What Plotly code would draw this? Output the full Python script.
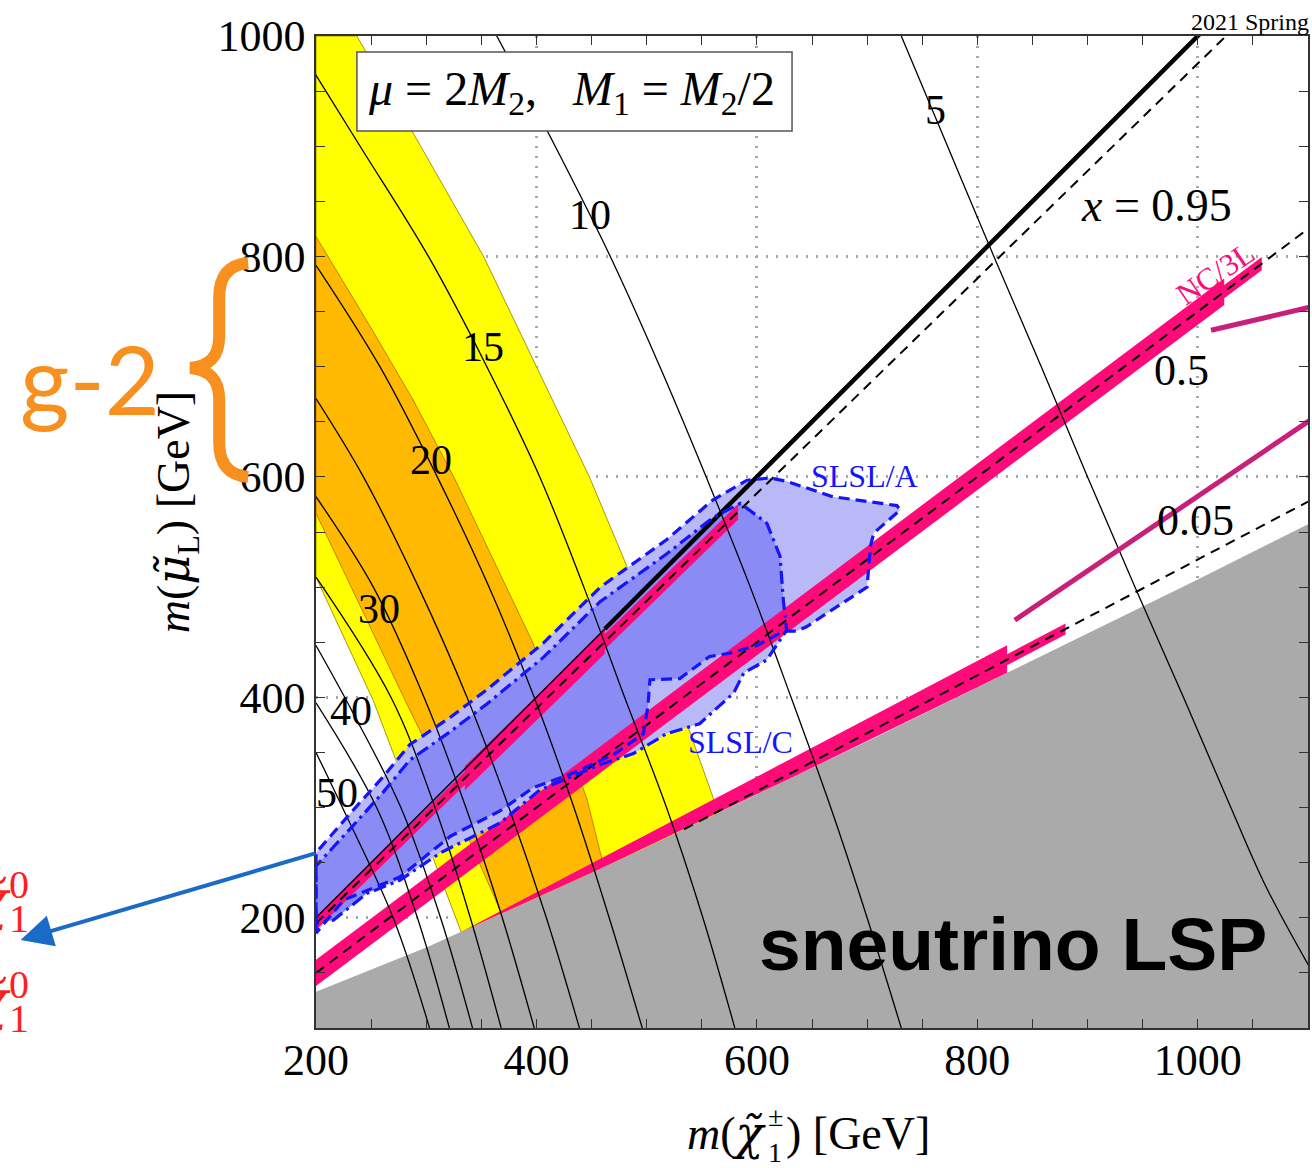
import numpy as np
import plotly.graph_objects as go

# ---------------- data (masses in GeV) ----------------
# boundary of the sneutrino-LSP region
lsp_x = [200, 300, 400, 500, 600, 700, 800, 900, 1000, 1100]
lsp_y = [133, 173, 218, 264, 312, 360, 409, 458, 507, 557]

# g-2 preferred bands: 2 sigma (yellow) and 1 sigma (orange)
g2_2s_x = [200, 237, 295, 352, 400, 448, 490, 528, 561, 600, 640, 360, 331, 289, 252, 200]
g2_2s_y = [1000, 1000, 900, 800, 700, 600, 500, 400, 307, 200, 100, 100, 189, 300, 397, 509]
g2_1s_x = [200, 250, 288, 325, 397, 446, 458, 480, 500, 404, 367, 303, 281, 200]
g2_1s_y = [818, 735, 670, 600, 449, 307, 259, 180, 100, 100, 207, 352, 397, 567]

# contours of the SUSY contribution to a_mu (x 10^10)
contour_levels = [5, 10, 15, 20, 25, 30, 35, 40, 45, 50]
contour_x = [
    [1101, 1062, 1030, 987, 943, 900, 858, 815, 773, 731],
    [731, 700, 667, 631, 594, 554, 512, 467, 417, 364],
    [580, 551, 518, 480, 443, 403, 355, 302, 240, 199],
    [496, 466, 434, 398, 357, 310, 258, 200],
    [439, 409, 375, 337, 293, 243, 200],
    [398, 369, 336, 298, 252, 200],
    [368, 340, 308, 268, 200],
    [342, 313, 277, 233, 200],
    [321, 292, 255, 200],
    [303, 270, 224, 200],
]
contour_y = [
    [156, 228, 300, 400, 500, 600, 700, 800, 900, 1000],
    [100, 200, 300, 400, 500, 600, 700, 800, 900, 1000],
    [100, 200, 300, 400, 500, 600, 700, 800, 900, 966],
    [100, 200, 300, 400, 500, 600, 700, 792],
    [100, 200, 300, 400, 500, 600, 671],
    [100, 200, 300, 400, 500, 582],
    [100, 200, 300, 400, 509],
    [100, 200, 300, 387, 447],
    [100, 200, 300, 395],
    [100, 200, 300, 350],
]

# x = (m_smuon - m_N1) / (m_C1 - m_N1), with m_N1 = m_C1 / 2
x_values = [1.0, 0.95, 0.5, 0.05]

# NC/3L exclusion strips along the x lines: segment edges and half-widths
nc_095_edges = [200, 335, 462, 583]
nc_095_halfw = [6, 11, 7]
nc_05_edges = [200, 1024, 1058]
nc_05_halfw = [12, 6]
nc_005_edges = [290, 827, 880]
nc_005_halfw = [13, 5]

# further limit lines
limit_x = [[1012, 1102], [834, 1102]]
limit_y = [[733, 754], [470, 651.5]]

# slepton-pair searches
slsl_a_x = [200, 200, 234, 261, 285, 322, 355, 406, 458, 518, 560, 591, 612, 627, 669, 727, 730, 706,
            703, 700, 663, 645, 636, 624, 600, 575, 557, 530, 503, 501, 497, 470, 430, 397, 367, 322, 276, 225]
slsl_a_y = [186, 259, 298, 328, 357, 382, 407, 449, 500, 543, 579, 597, 599, 596, 582, 574, 570, 549,
            537, 500, 476, 464, 460, 460, 447, 440, 437, 417, 416, 391, 367, 348, 330, 318, 297, 274, 237, 216]
slsl_c_x = [200, 200, 234, 261, 285, 322, 355, 406, 458, 518, 560, 585, 609, 621, 624, 627, 621, 609,
            588, 579, 548, 518, 488, 458, 403, 367, 313, 276, 246, 216]
slsl_c_y = [195, 247, 284, 314, 343, 369, 394, 436, 487, 530, 563, 576, 558, 528, 488, 461, 452, 434,
            422, 404, 376, 367, 349, 339, 316, 286, 259, 234, 222, 198]
slsl_ac_x = [200, 200, 234, 261, 285, 322, 355, 406, 458, 518, 560, 585, 609, 621, 624, 626, 600, 575,
             557, 530, 503, 501, 497, 470, 430, 397, 367, 322, 276, 246, 216]
slsl_ac_y = [195, 247, 284, 314, 343, 369, 394, 436, 487, 530, 563, 576, 558, 528, 488, 461, 447, 440,
             437, 417, 416, 391, 367, 348, 330, 318, 297, 274, 237, 222, 198]

# ---------------- geometry helpers ----------------
W, H = 1312, 1168
ML, MR, MT, MB = 316, 2, 36, 140
PW, PH = W - ML - MR, H - MT - MB
XR, YR = [200, 1100], [100, 1000]

SERIF = "Liberation Serif, Times New Roman, serif"
SANS = "Liberation Sans, Arial, sans-serif"
TILDE_FONT = "font-family:DejaVu Serif"

PINK = "#FF0A78"
YELLOW = "#FFFF00"
ORANGE = "#FFB900"
GRAY = "#AAAAAA"
LIGHT_BLUE = "#B9B9F8"
DARK_BLUE = "#8B8BF5"
BLUE = "#1414FF"
G2_ORANGE = "#F7901E"
RED = "#FF1E1E"


def paper(xp, yp):
    return (xp - ML) / PW, (MT + PH - yp) / PH


def smuon_mass(mc, xv):
    return np.asarray(mc, float) * (1.0 + xv) / 2.0


def gray_edge(mc):
    return np.interp(mc, lsp_x, lsp_y)


def closed(xs, ys):
    return list(xs) + [xs[0]], list(ys) + [ys[0]]


def fill_trace(xs, ys, color, edge=None, width=0):
    cx, cy = closed(xs, ys)
    return go.Scatter(x=cx, y=cy, mode="lines", fill="toself", fillcolor=color,
                      line=dict(color=edge or color, width=width),
                      hoverinfo="skip", showlegend=False)


def strip_polygon(edges, halfw, xv, clip_gray=False):
    top_x, top_y, bot_x, bot_y = [], [], [], []
    for i, hw in enumerate(halfw):
        xs = np.linspace(edges[i], edges[i + 1], 40)
        c = smuon_mass(xs, xv)
        t, b = c + hw, c - hw
        if clip_gray:
            g = gray_edge(xs)
            t, b = np.maximum(t, g), np.maximum(b, g)
        top_x += list(xs); top_y += list(t)
        bot_x += list(xs); bot_y += list(b)
    return top_x + bot_x[::-1], top_y + bot_y[::-1]


def tilded(ch):
    return f"<span style='{TILDE_FONT}'><i>{ch}\u0303</i></span>"


fig = go.Figure()

# g-2 bands
fig.add_trace(fill_trace(g2_2s_x, g2_2s_y, YELLOW, "rgba(160,140,0,0.9)", 1))
fig.add_trace(fill_trace(g2_1s_x, g2_1s_y, ORANGE, "rgba(190,120,0,0.9)", 1))

# sneutrino LSP region
gx = [XR[0]] + lsp_x + [XR[1]]
gy = [YR[0]] + lsp_y + [YR[0]]
fig.add_trace(fill_trace(gx, gy, GRAY))

# slepton search regions
fig.add_trace(fill_trace(slsl_a_x, slsl_a_y, LIGHT_BLUE))
fig.add_trace(fill_trace(slsl_c_x, slsl_c_y, LIGHT_BLUE))
fig.add_trace(fill_trace(slsl_ac_x, slsl_ac_y, DARK_BLUE))

# NC/3L strips
for edges, hw, xv, clip in [(nc_095_edges, nc_095_halfw, 0.95, False),
                            (nc_05_edges, nc_05_halfw, 0.5, False),
                            (nc_005_edges, nc_005_halfw, 0.05, True)]:
    px_, py_ = strip_polygon(edges, hw, xv, clip)
    fig.add_trace(fill_trace(px_, py_, PINK))

# a_mu contours
for cx, cy in zip(contour_x, contour_y):
    fig.add_trace(go.Scatter(x=cx, y=cy, mode="lines", line=dict(color="black", width=1.3, shape="spline"),
                             hoverinfo="skip", showlegend=False))

# x = const lines
xs_full = np.linspace(200, 1100, 400)
for xv in x_values[1:]:
    ys = smuon_mass(xs_full, xv)
    keep = ys >= gray_edge(xs_full)
    fig.add_trace(go.Scatter(x=xs_full[keep], y=ys[keep], mode="lines",
                             line=dict(color="black", width=2, dash="10px,7px"),
                             hoverinfo="skip", showlegend=False))
x_thin = [200, 462]
x_thick = [462, 1100]
fig.add_trace(go.Scatter(x=x_thin, y=smuon_mass(x_thin, x_values[0]), mode="lines",
                         line=dict(color="black", width=1.5), hoverinfo="skip", showlegend=False))
fig.add_trace(go.Scatter(x=x_thick, y=smuon_mass(x_thick, x_values[0]), mode="lines",
                         line=dict(color="black", width=4.5), hoverinfo="skip", showlegend=False))

# other limit lines
for lx, ly in zip(limit_x, limit_y):
    fig.add_trace(go.Scatter(x=lx, y=ly, mode="lines", line=dict(color="#C8207A", width=5),
                             hoverinfo="skip", showlegend=False))

# slepton search outlines
ax_, ay_ = closed(slsl_a_x, slsl_a_y)
fig.add_trace(go.Scatter(x=ax_, y=ay_, mode="lines", line=dict(color=BLUE, width=3.2, dash="11px,6px"),
                         hoverinfo="skip", showlegend=False))
cx_, cy_ = closed(slsl_c_x, slsl_c_y)
fig.add_trace(go.Scatter(x=cx_, y=cy_, mode="lines", line=dict(color=BLUE, width=3.2, dash="13px,5px,3px,5px"),
                         hoverinfo="skip", showlegend=False))

# ---------------- annotations ----------------
ann = []


def text_px(xp, yp, text, size, color="black", family=SERIF, angle=0, xanchor="center",
            yanchor="middle", weight=None):
    px0, py0 = paper(xp, yp)
    font = dict(size=size, color=color, family=family)
    if weight is not None:
        font["weight"] = weight
    ann.append(dict(x=px0, y=py0, xref="paper", yref="paper", text=text, showarrow=False,
                    font=font, textangle=angle, xanchor=xanchor, yanchor=yanchor))


# contour labels
for lab, (xp, yp) in zip([5, 10, 15, 20, 30, 40, 50],
                         [(937, 110), (591, 215), (483, 347), (431, 460), (379, 609), (351, 711), (337, 793)]):
    text_px(xp, yp, str(lab), 42)

text_px(1158, 205, "<i>x</i> = 0.95", 46)
text_px(1183, 370, "0.5", 44)
text_px(1197, 520, "0.05", 44)
text_px(1217, 273, "NC/3L", 31, color=PINK, angle=-34)
text_px(866, 476, "SLSL/A", 32, color=BLUE)
text_px(741, 742, "SLSL/C", 32, color=BLUE)
text_px(1014, 944, "<b>sneutrino LSP</b>", 75, family=SANS)
text_px(1252, 22, "2021 Spring", 24)
text_px(572, 92, "<i>μ</i> = 2<i>M</i><sub>2</sub>,&nbsp;&nbsp;&nbsp;<i>M</i><sub>1</sub> = <i>M</i><sub>2</sub>/2", 48)

# axis titles
text_px(770, 1133, "<i>m</i>(" + tilded("χ"), 46, xanchor="right")
text_px(776, 1116, "±", 28)
text_px(776, 1152, "1", 28)
text_px(785, 1133, ") [GeV]", 46, xanchor="left")
text_px(176, 512, "<i>m</i>(" + tilded("μ") + "<sub>L</sub>) [GeV]", 46, angle=-90)

# g-2 bracket label
text_px(90, 378, "g-2", 95, color=G2_ORANGE, family="Lato, " + SANS, weight=400)

# neutralino labels at the left edge
for y0 in (900, 1000):
    text_px(12, y0, tilded("χ"), 54, color=RED, xanchor="right")
    text_px(6, y0 - 16, "0", 40, color=RED, xanchor="left")
    text_px(6, y0 + 18, "1", 40, color=RED, xanchor="left")

# arrow pointing out of the frame
hx, hy = paper(20, 940)
ann.append(dict(x=hx, y=hy, xref="paper", yref="paper", text="", showarrow=True,
                ax=296, ay=-87, arrowhead=2, arrowsize=1.6, arrowwidth=4, arrowcolor="#1A6BC8"))

# ---------------- shapes ----------------
shapes = []
b0 = paper(357, 52)
b1 = paper(793, 131)
shapes.append(dict(type="rect", xref="paper", yref="paper", x0=b0[0], y0=b1[1], x1=b1[0], y1=b0[1],
                   line=dict(color="#555555", width=1.5), fillcolor="white", layer="above"))


def pstr(xp, yp):
    a, b = paper(xp, yp)
    return f"{a:.5f},{b:.5f}"


brace = ("M " + pstr(248, 263) + " C " + pstr(226, 265) + " " + pstr(219, 279) + " " + pstr(219, 298) +
         " L " + pstr(219, 336) + " C " + pstr(219, 356) + " " + pstr(210, 366) + " " + pstr(190, 368) +
         " C " + pstr(210, 370) + " " + pstr(219, 380) + " " + pstr(219, 400) +
         " L " + pstr(219, 442) + " C " + pstr(219, 461) + " " + pstr(226, 475) + " " + pstr(248, 477))
shapes.append(dict(type="path", xref="paper", yref="paper", path=brace,
                   line=dict(color=G2_ORANGE, width=12), layer="above"))

axis_common = dict(
    showgrid=True, gridcolor="#A8A8A8", griddash="2px,8px", gridwidth=2.5,
    showline=True, linecolor="#333333", linewidth=1.5, mirror="allticks",
    ticks="inside", ticklen=9, tickwidth=1.3, tickcolor="#333333",
    minor=dict(dtick=50, ticks="inside", ticklen=9, tickwidth=1.3, tickcolor="#333333", showgrid=False),
    zeroline=False, layer="above traces",
    tickfont=dict(family=SERIF, size=44, color="black"),
)

fig.update_layout(
    width=W, height=H, margin=dict(l=ML, r=MR, t=MT, b=MB),
    plot_bgcolor="white", paper_bgcolor="white", showlegend=False,
    xaxis=dict(range=XR, tickvals=[200, 400, 600, 800, 1000], ticklabelstandoff=-8, **axis_common),
    yaxis=dict(range=YR, tickvals=[200, 400, 600, 800, 1000], **axis_common),
    annotations=ann, shapes=shapes,
)

fig.write_html("out.html")
